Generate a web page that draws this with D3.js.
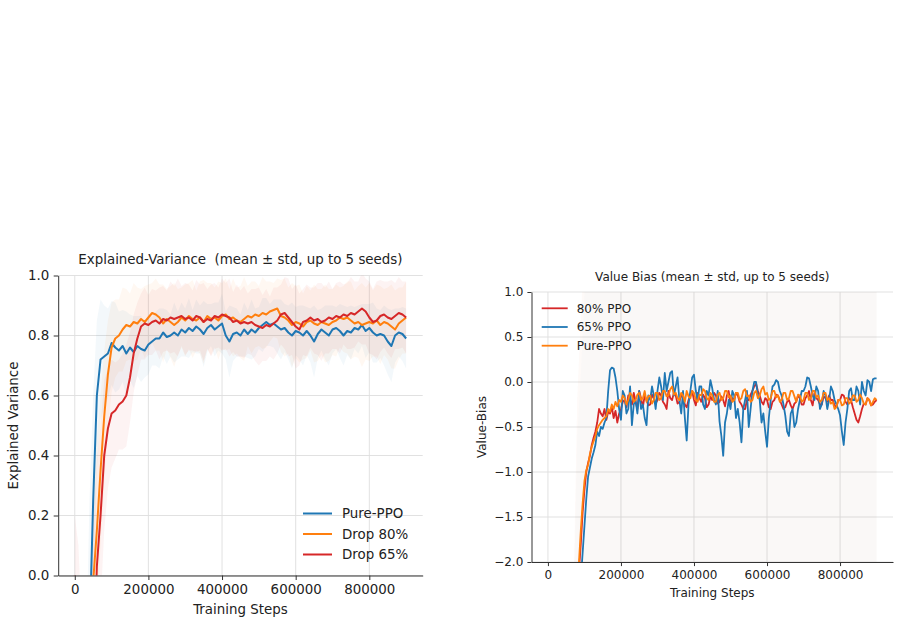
<!DOCTYPE html>
<html>
<head>
<meta charset="utf-8">
<script src="https://cdn.jsdelivr.net/npm/d3@7"></script>
<style>
  body { margin: 0; background: #fff; }
  text { white-space: pre; }
</style>
</head>
<body>
<script>
var width = 900;
var height = 625;

/* logged training steps, in thousands (10k grid, explained variance + all std bands) */
var steps = [0,10,20,30,40,50,60,70,80,90,100,110,120,130,140,150,160,170,180,190,
             200,210,220,230,240,250,260,270,280,290,300,310,320,330,340,350,360,370,380,390,
             400,410,420,430,440,450,460,470,480,490,500,510,520,530,540,550,560,570,580,590,
             600,610,620,630,640,650,660,670,680,690,700,710,720,730,740,750,760,770,780,790,
             800,810,820,830,840,850,860,870,880,890,900];

/* value bias is logged on a finer 5k grid */
var biasSteps = [0,5,10,15,20,25,30,35,40,45,50,55,60,65,70,75,80,85,90,95,
    100,105,110,115,120,125,130,135,140,145,150,155,160,165,170,175,180,185,190,195,
    200,205,210,215,220,225,230,235,240,245,250,255,260,265,270,275,280,285,290,295,
    300,305,310,315,320,325,330,335,340,345,350,355,360,365,370,375,380,385,390,395,
    400,405,410,415,420,425,430,435,440,445,450,455,460,465,470,475,480,485,490,495,
    500,505,510,515,520,525,530,535,540,545,550,555,560,565,570,575,580,585,590,595,
    600,605,610,615,620,625,630,635,640,645,650,655,660,665,670,675,680,685,690,695,
    700,705,710,715,720,725,730,735,740,745,750,755,760,765,770,775,780,785,790,795,
    800,805,810,815,820,825,830,835,840,845,850,855,860,865,870,875,880,885,890,895,900];

var xTicks = [0, 200000, 400000, 600000, 800000];
var evTicks = [0, 0.2, 0.4, 0.6, 0.8, 1.0];
var biasTicks = [-2, -1.5, -1, -0.5, 0, 0.5, 1];

/* explained variance, mean per step */
var evPure = [-2.0,-1.8,-1.4,-0.9,-0.2,0.25,0.6,0.72,0.73,0.74,
    0.775,0.76,0.75,0.765,0.74,0.76,0.745,0.765,0.755,0.75,
    0.77,0.78,0.79,0.79,0.81,0.795,0.80,0.81,0.80,0.82,
    0.81,0.825,0.815,0.83,0.82,0.805,0.825,0.835,0.82,0.83,
    0.84,0.80,0.78,0.805,0.81,0.80,0.82,0.805,0.82,0.81,
    0.825,0.835,0.845,0.835,0.84,0.83,0.82,0.825,0.81,0.80,
    0.815,0.81,0.80,0.815,0.80,0.78,0.805,0.82,0.81,0.80,
    0.82,0.825,0.815,0.80,0.815,0.81,0.825,0.82,0.835,0.815,
    0.825,0.81,0.80,0.805,0.80,0.78,0.765,0.80,0.81,0.805,
    0.79];
var evDrop80 = [-2.5,-2.2,-1.8,-1.3,-0.7,-0.02,0.15,0.35,0.53,0.67,
    0.76,0.79,0.80,0.82,0.835,0.83,0.845,0.84,0.855,0.845,
    0.86,0.875,0.87,0.86,0.84,0.855,0.845,0.835,0.845,0.86,
    0.85,0.865,0.855,0.85,0.86,0.845,0.865,0.855,0.86,0.85,
    0.865,0.87,0.855,0.86,0.85,0.845,0.855,0.865,0.86,0.87,
    0.865,0.875,0.87,0.88,0.885,0.89,0.865,0.86,0.85,0.835,
    0.845,0.84,0.83,0.845,0.85,0.84,0.835,0.845,0.84,0.835,
    0.845,0.85,0.86,0.855,0.86,0.85,0.84,0.845,0.835,0.84,
    0.845,0.84,0.85,0.835,0.845,0.84,0.83,0.82,0.84,0.85,
    0.86];
var evDrop65 = [0.0,-0.8,-1.5,-1.8,-1.2,-0.4,0.03,0.2,0.4,0.49,
    0.54,0.55,0.57,0.58,0.6,0.66,0.74,0.79,0.83,0.84,
    0.835,0.845,0.85,0.84,0.855,0.85,0.86,0.855,0.86,0.865,
    0.855,0.86,0.85,0.865,0.86,0.845,0.855,0.85,0.865,0.86,
    0.87,0.865,0.86,0.845,0.85,0.84,0.845,0.84,0.845,0.835,
    0.83,0.825,0.835,0.83,0.84,0.85,0.87,0.875,0.86,0.845,
    0.83,0.82,0.845,0.85,0.86,0.85,0.855,0.845,0.85,0.86,
    0.855,0.865,0.86,0.87,0.865,0.875,0.87,0.88,0.89,0.88,
    0.86,0.845,0.85,0.865,0.87,0.86,0.855,0.865,0.875,0.87,
    0.86];

/* explained variance, std per step */
var evPureStd = [0.9,0.9,0.8,0.6,0.45,0.35,0.25,0.2,0.17,0.15,
    0.14,0.15,0.13,0.12,0.14,0.11,0.12,0.1,0.11,0.09,
    0.1,0.08,0.09,0.1,0.08,0.09,0.07,0.1,0.08,0.09,
    0.08,0.1,0.07,0.09,0.08,0.11,0.08,0.07,0.09,0.08,
    0.1,0.08,0.12,0.09,0.08,0.07,0.09,0.08,0.1,0.08,
    0.07,0.09,0.08,0.07,0.08,0.09,0.1,0.08,0.09,0.11,
    0.08,0.09,0.1,0.08,0.09,0.12,0.08,0.07,0.09,0.1,
    0.08,0.07,0.09,0.1,0.08,0.09,0.07,0.08,0.07,0.09,
    0.08,0.1,0.09,0.08,0.1,0.11,0.12,0.09,0.08,0.09,
    0.1];
var evDrop80Std = [0.6,0.6,0.5,0.5,0.45,0.35,0.3,0.25,0.22,0.18,
    0.15,0.13,0.12,0.14,0.12,0.11,0.13,0.12,0.1,0.12,
    0.11,0.1,0.12,0.11,0.13,0.1,0.12,0.14,0.11,0.1,
    0.12,0.11,0.13,0.1,0.12,0.14,0.11,0.12,0.1,0.13,
    0.11,0.12,0.1,0.13,0.11,0.12,0.14,0.1,0.12,0.11,
    0.1,0.12,0.11,0.1,0.09,0.1,0.12,0.13,0.11,0.14,
    0.12,0.13,0.11,0.12,0.1,0.13,0.12,0.11,0.13,0.12,
    0.11,0.12,0.1,0.11,0.12,0.13,0.11,0.12,0.14,0.12,
    0.13,0.11,0.12,0.13,0.11,0.12,0.14,0.13,0.12,0.11,
    0.12];
var evDrop65Std = [0.2,0.9,1.3,1.4,1.0,0.6,0.35,0.3,0.25,0.2,
    0.18,0.16,0.15,0.16,0.17,0.15,0.13,0.12,0.11,0.12,
    0.1,0.11,0.1,0.12,0.11,0.1,0.12,0.11,0.13,0.1,
    0.12,0.11,0.1,0.12,0.11,0.13,0.1,0.12,0.11,0.1,
    0.12,0.11,0.13,0.1,0.12,0.11,0.12,0.1,0.11,0.12,
    0.13,0.11,0.12,0.1,0.12,0.11,0.1,0.12,0.13,0.11,
    0.14,0.12,0.11,0.12,0.1,0.11,0.12,0.13,0.11,0.12,
    0.1,0.11,0.12,0.1,0.11,0.12,0.11,0.1,0.12,0.11,
    0.12,0.11,0.13,0.12,0.11,0.12,0.13,0.11,0.12,0.11,
    0.12];

/* value bias, mean per 5k step */
var bias80 = [-4.0,-3.95,-3.9,-3.85,-3.8,-3.75,-3.7,-3.6,-3.5,-3.4,
    -3.3,-3.15,-3.0,-2.9,-2.8,-2.6,-2.4,-2.1,-1.8,-1.45,
    -1.2,-1.0,-0.9,-0.82,-0.7,-0.62,-0.55,-0.45,-0.3,-0.35,
    -0.38,-0.3,-0.42,-0.33,-0.35,-0.28,-0.4,-0.32,-0.45,-0.35,
    -0.3,-0.22,-0.2,-0.28,-0.15,-0.2,-0.25,-0.12,-0.22,-0.3,
    -0.1,-0.18,-0.28,-0.15,-0.2,-0.26,-0.25,-0.14,-0.18,-0.24,
    -0.2,-0.12,-0.15,-0.22,-0.25,-0.3,-0.1,-0.18,-0.2,-0.12,
    -0.15,-0.24,-0.22,-0.14,-0.18,-0.25,-0.28,-0.2,-0.15,-0.1,
    -0.2,-0.26,-0.12,-0.18,-0.22,-0.14,-0.18,-0.28,-0.25,-0.16,
    -0.2,-0.12,-0.15,-0.24,-0.22,-0.16,-0.2,-0.27,-0.15,-0.1,
    -0.25,-0.18,-0.2,-0.12,-0.15,-0.22,-0.25,-0.3,-0.3,-0.2,
    -0.2,-0.14,-0.1,-0.05,-0.02,-0.1,-0.15,-0.22,-0.25,-0.18,
    -0.2,-0.28,-0.3,-0.22,-0.2,-0.14,-0.15,-0.2,-0.25,-0.3,
    -0.28,-0.22,-0.2,-0.26,-0.3,-0.24,-0.22,-0.15,-0.18,-0.25,
    -0.25,-0.18,-0.15,-0.1,-0.2,-0.26,-0.12,-0.18,-0.2,-0.25,
    -0.25,-0.16,-0.18,-0.22,-0.15,-0.2,-0.2,-0.26,-0.28,-0.2,
    -0.2,-0.14,-0.15,-0.22,-0.25,-0.18,-0.2,-0.28,-0.35,-0.42,
    -0.45,-0.38,-0.3,-0.24,-0.25,-0.18,-0.2,-0.26,-0.25,-0.22,
    -0.2];
var bias65 = [-4.2,-4.15,-4.1,-4.05,-4.0,-3.95,-3.9,-3.8,-3.7,-3.6,
    -3.5,-3.35,-3.2,-3.05,-2.9,-2.75,-2.6,-2.4,-2.2,-1.9,
    -1.6,-1.3,-1.05,-0.95,-0.85,-0.78,-0.7,-0.55,-0.6,-0.5,
    -0.52,-0.45,-0.4,-0.1,0.13,0.16,0.15,0.05,-0.1,-0.3,
    -0.42,-0.1,-0.15,-0.35,-0.3,-0.05,-0.48,-0.25,-0.2,-0.35,
    -0.1,-0.3,-0.25,-0.4,-0.48,-0.15,-0.2,-0.05,-0.15,-0.3,
    -0.1,0.05,-0.05,-0.2,0.1,-0.1,0.0,0.1,0.12,-0.15,
    -0.05,0.05,-0.2,-0.35,-0.1,-0.4,-0.65,-0.25,-0.1,0.05,
    0.08,-0.1,-0.2,-0.05,-0.05,-0.25,-0.3,-0.1,-0.15,0.02,
    -0.07,-0.2,-0.25,-0.1,-0.44,-0.6,-0.82,-0.45,-0.35,-0.2,
    -0.3,-0.1,-0.15,-0.4,-0.3,-0.45,-0.67,-0.3,-0.2,-0.1,
    -0.5,-0.3,-0.1,0.0,0.0,-0.15,-0.2,-0.45,-0.35,-0.55,
    -0.72,-0.4,-0.2,-0.05,-0.03,0.02,0.0,-0.1,-0.15,-0.25,
    -0.37,-0.55,-0.6,-0.35,-0.3,-0.5,-0.45,-0.3,-0.2,-0.1,
    -0.1,-0.05,0.05,0.04,-0.05,-0.15,-0.2,-0.05,-0.1,-0.3,
    -0.25,-0.1,-0.15,-0.3,-0.2,-0.05,-0.1,-0.2,-0.25,-0.3,
    -0.37,-0.55,-0.7,-0.45,-0.3,-0.1,-0.07,-0.2,-0.2,-0.05,
    -0.1,-0.25,0.0,-0.1,-0.15,0.02,0.0,-0.1,0.03,0.04,
    0.04];
var biasPure = [-4.0,-3.95,-3.9,-3.85,-3.8,-3.7,-3.6,-3.5,-3.4,-3.3,
    -3.2,-3.05,-2.9,-2.75,-2.6,-2.45,-2.3,-2.0,-1.65,-1.35,
    -1.1,-0.98,-0.92,-0.8,-0.72,-0.66,-0.6,-0.52,-0.48,-0.45,
    -0.42,-0.4,-0.38,-0.3,-0.33,-0.25,-0.3,-0.22,-0.27,-0.2,
    -0.22,-0.15,-0.18,-0.25,-0.2,-0.12,-0.15,-0.22,-0.2,-0.14,
    -0.12,-0.2,-0.18,-0.1,-0.22,-0.16,-0.15,-0.24,-0.2,-0.12,
    -0.12,-0.2,-0.18,-0.1,-0.1,-0.16,-0.15,-0.08,-0.05,-0.14,
    -0.12,-0.18,-0.2,-0.12,-0.15,-0.22,-0.1,-0.16,-0.18,-0.1,
    -0.12,-0.2,-0.22,-0.14,-0.15,-0.08,-0.1,-0.18,-0.2,-0.12,
    -0.15,-0.22,-0.22,-0.14,-0.12,-0.2,-0.18,-0.1,-0.1,-0.17,
    -0.15,-0.22,-0.2,-0.12,-0.12,-0.2,-0.18,-0.1,-0.08,-0.16,
    -0.15,-0.22,-0.2,-0.12,-0.1,-0.18,-0.15,-0.08,-0.05,-0.14,
    -0.12,-0.2,-0.18,-0.1,-0.1,-0.17,-0.15,-0.22,-0.2,-0.12,
    -0.12,-0.2,-0.18,-0.1,-0.1,-0.16,-0.22,-0.14,-0.15,-0.22,
    -0.2,-0.12,-0.12,-0.2,-0.18,-0.1,-0.1,-0.17,-0.15,-0.22,
    -0.2,-0.12,-0.12,-0.2,-0.18,-0.24,-0.22,-0.3,-0.28,-0.2,
    -0.2,-0.26,-0.25,-0.18,-0.18,-0.24,-0.22,-0.15,-0.15,-0.22,
    -0.2,-0.14,-0.18,-0.24,-0.25,-0.18,-0.2,-0.26,-0.22,-0.18,
    -0.2];

/* value bias, std per 10k step (very wide, nearly fills the panel) */
var bias80Std = [0.4,0.4,0.4,0.4,0.4,0.4,0.4,0.4,
    2.2,2.5,2.6,2.8,2.7,2.9,2.6,2.8,2.7,2.9,
    2.8,2.6,2.9,2.7,2.8,2.6,2.9,2.7,2.8,2.6,
    2.7,2.9,2.8,2.6,2.7,2.9,2.8,2.7,2.6,2.8,
    2.9,2.7,2.8,2.6,2.9,2.7,2.8,2.6,2.7,2.9,
    2.8,2.6,2.7,2.9,2.8,2.7,2.6,2.8,2.9,2.7,
    2.8,2.6,2.7,2.9,2.8,2.7,2.6,2.8,2.9,2.7,
    2.8,2.6,2.9,2.7,2.8,2.6,2.7,2.9,2.8,2.7,
    2.6,2.8,2.9,2.7,2.8,2.6,2.7,2.9,2.8,2.7,
    2.6,2.8,2.7];
var bias65Std = [0.4,0.4,0.4,0.4,0.4,0.4,0.4,0.4,
    2.0,2.3,2.6,2.7,2.9,2.8,2.6,2.7,2.9,2.8,
    2.6,2.8,2.7,2.9,2.6,2.8,2.7,2.9,2.6,2.8,
    2.9,2.7,2.6,2.8,2.9,2.7,2.8,2.6,2.9,2.7,
    2.6,2.8,2.7,2.9,2.6,2.8,2.9,2.7,2.8,2.6,
    2.7,2.9,2.8,2.6,2.7,2.9,2.8,2.6,2.7,2.9,
    2.6,2.8,2.9,2.7,2.6,2.8,2.7,2.9,2.6,2.8,
    2.7,2.9,2.6,2.8,2.7,2.9,2.8,2.6,2.7,2.9,
    2.8,2.6,2.7,2.9,2.8,2.7,2.6,2.8,2.9,2.7,
    2.8,2.6,2.7];
var biasPureStd = [0.4,0.4,0.4,0.4,0.4,0.4,0.4,0.4,
    2.1,2.4,2.7,2.6,2.8,2.7,2.9,2.6,2.8,2.7,
    2.9,2.7,2.6,2.8,2.9,2.7,2.6,2.8,2.7,2.9,
    2.6,2.8,2.7,2.9,2.6,2.8,2.7,2.6,2.8,2.9,
    2.7,2.6,2.8,2.7,2.9,2.6,2.8,2.7,2.9,2.8,
    2.6,2.7,2.9,2.8,2.6,2.7,2.8,2.9,2.6,2.8,
    2.7,2.9,2.8,2.6,2.7,2.8,2.9,2.7,2.6,2.8,
    2.9,2.7,2.8,2.6,2.9,2.7,2.8,2.6,2.7,2.9,
    2.8,2.7,2.6,2.8,2.9,2.7,2.6,2.8,2.7,2.9,
    2.7,2.8,2.6];

var BLUE = "#1f77b4", ORANGE = "#ff7f0e", RED = "#d62728";
var FONT = "DejaVu Sans, sans-serif";

var svg = d3.select("body")
    .append("svg")
    .attr("width", width)
    .attr("height", height);

function drawPanel(p) {
    var x = d3.scaleLinear().domain([-45000, 945000]).range([p.left, p.right]);
    var y = d3.scaleLinear().domain(p.yDomain).range([p.bottom, p.top]);
    var g = svg.append("g");

    svg.append("clipPath")
        .attr("id", p.id)
        .append("rect")
        .attr("x", p.left)
        .attr("y", p.top)
        .attr("width", p.right - p.left)
        .attr("height", p.bottom - p.top);

    // grid
    g.selectAll(".gx")
        .data(xTicks)
        .enter()
        .append("line")
        .attr("x1", function (d) { return x(d); })
        .attr("x2", function (d) { return x(d); })
        .attr("y1", p.top)
        .attr("y2", p.bottom)
        .attr("stroke", "#dedede")
        .attr("stroke-width", 0.9);
    g.selectAll(".gy")
        .data(p.yTicks)
        .enter()
        .append("line")
        .attr("x1", p.left)
        .attr("x2", p.right)
        .attr("y1", function (d) { return y(d); })
        .attr("y2", function (d) { return y(d); })
        .attr("stroke", "#dedede")
        .attr("stroke-width", 0.9);

    var plot = g.append("g").attr("clip-path", "url(#" + p.id + ")");

    // std bands (std lives on the 10k grid, mean may be finer)
    p.series.forEach(function (s) {
        var band = d3.area()
            .x(function (d, i) { return x(steps[i] * 1000); })
            .y0(function (d, i) { return y(s.values[i * p.every] - d); })
            .y1(function (d, i) { return y(s.values[i * p.every] + d); });
        plot.append("path")
            .datum(s.std)
            .attr("d", band)
            .attr("fill", s.color)
            .attr("opacity", p.bandOpacity);
    });

    // mean lines
    p.series.forEach(function (s) {
        var line = d3.line()
            .x(function (d, i) { return x(p.steps[i] * 1000); })
            .y(function (d) { return y(d); });
        plot.append("path")
            .datum(s.values)
            .attr("d", line)
            .attr("fill", "none")
            .attr("stroke", s.color)
            .attr("stroke-width", p.lineWidth)
            .attr("stroke-linejoin", "round");
    });

    var xAxis = d3.axisBottom(x)
        .tickValues(xTicks)
        .tickFormat(d3.format("d"))
        .tickSizeInner(p.tick)
        .tickSizeOuter(0)
        .tickPadding(p.tick);
    var yAxis = d3.axisLeft(y)
        .tickValues(p.yTicks)
        .tickFormat(d3.format(".1f"))
        .tickSizeInner(p.tick)
        .tickSizeOuter(0)
        .tickPadding(p.tick);

    [[xAxis, "translate(0," + p.bottom + ")"], [yAxis, "translate(" + p.left + ",0)"]].forEach(function (a) {
        var ag = g.append("g")
            .attr("transform", a[1])
            .call(a[0])
            .attr("font-size", p.font)
            .attr("font-family", FONT);
        ag.select(".domain").attr("stroke", "#333").attr("stroke-width", 1);
        ag.selectAll(".tick line").attr("stroke", "#333");
        ag.selectAll(".tick text").attr("fill", "#222");
    });

    // title and axis labels
    var mid = (p.left + p.right) / 2;
    g.append("text")
        .attr("x", mid)
        .attr("y", p.titleY)
        .attr("text-anchor", "middle")
        .attr("font-family", FONT)
        .attr("font-size", p.font)
        .attr("fill", "#222")
        .text(p.title);
    g.append("text")
        .attr("x", mid)
        .attr("y", p.xLabelY)
        .attr("text-anchor", "middle")
        .attr("font-family", FONT)
        .attr("font-size", p.font)
        .attr("fill", "#222")
        .text("Training Steps");
    g.append("text")
        .attr("transform", "translate(" + p.yLabelX + "," + (p.top + p.bottom) / 2 + ") rotate(-90)")
        .attr("text-anchor", "middle")
        .attr("dy", "0.35em")
        .attr("font-family", FONT)
        .attr("font-size", p.font)
        .attr("fill", "#222")
        .text(p.yLabel);

    // legend
    var leg = g.selectAll(".leg")
        .data(p.legend.items)
        .enter()
        .append("g")
        .attr("transform", function (d, i) {
            return "translate(" + p.legend.x + "," + (p.legend.y + i * p.legend.dy) + ")";
        });
    leg.append("line")
        .attr("x1", 0)
        .attr("x2", p.legend.len)
        .attr("stroke", function (d) { return d.color; })
        .attr("stroke-width", p.lineWidth);
    leg.append("text")
        .attr("x", p.legend.len + p.legend.gap)
        .attr("dy", "0.36em")
        .attr("font-family", FONT)
        .attr("font-size", p.font)
        .attr("fill", "#222")
        .text(function (d) { return d.name; });
}

/* left: explained variance */
drawPanel({
    id: "clip-ev",
    left: 58.2, right: 422.7, top: 275.5, bottom: 575.5,
    steps: steps, every: 1,
    yDomain: [0, 1], yTicks: evTicks,
    font: 13.4, tick: 4.5, lineWidth: 2, bandOpacity: 0.055,
    title: "Explained-Variance  (mean \u00b1 std, up to 5 seeds)", titleY: 263.5,
    xLabelY: 613.5, yLabel: "Explained Variance", yLabelX: 13,
    series: [
        {name: "Pure-PPO", color: BLUE, values: evPure, std: evPureStd},
        {name: "Drop 80%", color: ORANGE, values: evDrop80, std: evDrop80Std},
        {name: "Drop 65%", color: RED, values: evDrop65, std: evDrop65Std}
    ],
    legend: {
        x: 303, y: 513.5, dy: 20.5, len: 29, gap: 10,
        items: [
            {name: "Pure-PPO", color: BLUE},
            {name: "Drop 80%", color: ORANGE},
            {name: "Drop 65%", color: RED}
        ]
    }
});

/* right: value bias */
drawPanel({
    id: "clip-bias",
    left: 531.5, right: 893, top: 292, bottom: 562,
    steps: biasSteps, every: 2,
    yDomain: [-2, 1], yTicks: biasTicks,
    font: 12, tick: 4.1, lineWidth: 1.8, bandOpacity: 0.014,
    title: "Value Bias (mean \u00b1 std, up to 5 seeds)", titleY: 281,
    xLabelY: 596.5, yLabel: "Value-Bias", yLabelX: 481.5,
    series: [
        {name: "80% PPO", color: RED, values: bias80, std: bias80Std},
        {name: "65% PPO", color: BLUE, values: bias65, std: bias65Std},
        {name: "Pure-PPO", color: ORANGE, values: biasPure, std: biasPureStd}
    ],
    legend: {
        x: 541.7, y: 308.3, dy: 18.7, len: 26, gap: 9,
        items: [
            {name: "80% PPO", color: RED},
            {name: "65% PPO", color: BLUE},
            {name: "Pure-PPO", color: ORANGE}
        ]
    }
});
</script>
</body>
</html>
